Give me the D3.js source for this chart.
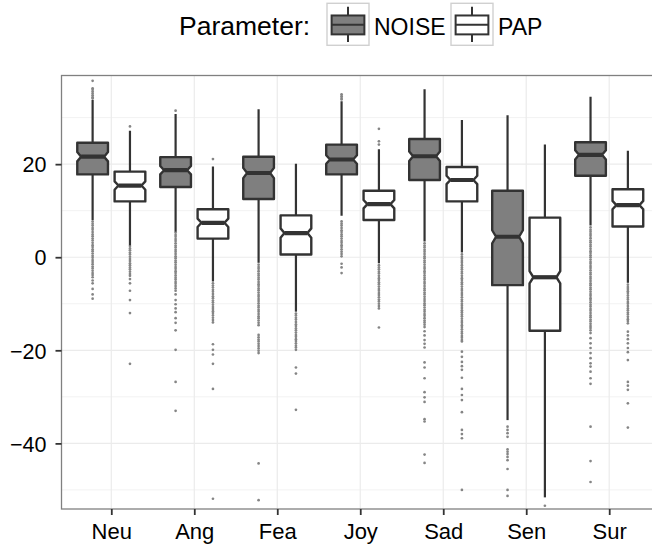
<!DOCTYPE html>
<html>
<head>
<meta charset="utf-8">
<script src="https://cdn.jsdelivr.net/npm/d3@7"></script>
<style>
  body { margin: 0; background: #fff; }
  svg { display: block; font-family: "Liberation Sans", Arial, Helvetica, sans-serif; }
</style>
</head>
<body>
<div id="chart"></div>
<script>
const categories = ["Neu", "Ang", "Fea", "Joy", "Sad", "Sen", "Sur"];
const params = ["NOISE", "PAP"];
const yTicks = [-40, -20, 0, 20];
const yMinor = [-50, -30, -10, 10, 30];

// NOISE boxes
const noiseLow = [8.0, 5.5, -1.2, 8.9, 3.4, -35.0, 6.8];
const noiseQ1 = [17.8, 15.1, 12.5, 17.8, 16.6, -6.0, 17.5];
const noiseMedian = [21.6, 18.7, 18.1, 21.0, 21.7, 4.4, 22.0];
const noiseQ3 = [24.6, 21.5, 21.6, 24.2, 25.4, 14.3, 24.7];
const noiseHigh = [33.8, 30.8, 31.8, 33.5, 36.1, 30.5, 34.5];
const noiseNotch = [1.0, 0.9, 1.1, 0.9, 1.0, 1.4, 1.0];

// PAP boxes
const papLow = [2.6, -5.2, -11.7, -1.3, 1.0, -51.6, -5.5];
const papQ1 = [12.0, 4.0, 0.6, 8.0, 12.0, -15.8, 6.6];
const papMedian = [15.4, 7.4, 5.2, 11.4, 16.6, -4.3, 11.2];
const papQ3 = [18.4, 10.3, 9.0, 14.3, 19.4, 8.5, 14.6];
const papHigh = [27.2, 19.5, 20.1, 23.2, 29.5, 24.2, 22.9];
const papNotch = [0.9, 0.9, 1.0, 0.9, 0.9, 1.3, 0.9];

const noiseOutliers = [
  [37.9, 36.3, 36.0, 35.6, 35.2, 34.8, 34.4, 34.1,
   7.7, 7.2, 6.8, 6.3, 5.9, 5.4, 4.9, 4.5, 4.0, 3.6, 3.1, 2.6, 2.2, 1.7, 1.3, 0.8, 0.3, -0.1,
   -0.6, -1.0, -1.5, -2.0, -2.4, -2.9, -3.4, -3.8, -4.3, -5.0, -5.6, -6.8, -8.0, -8.9],
  [31.5,
   5.3, 4.8, 4.4, 3.9, 3.5, 3.0, 2.5, 2.1, 1.6, 1.2, 0.7, 0.2, -0.2, -0.7, -1.1, -1.6, -2.1,
   -2.5, -3.0, -3.4, -3.9, -4.4, -4.8, -5.3, -5.7, -6.2, -6.7, -7.2, -8.0, -9.2, -10.1, -11.0,
   -11.8, -13.1, -14.1, -15.7, -19.9, -26.8, -33.0],
  [-1.6, -2.1, -2.5, -3.0, -3.5, -3.9, -4.4, -4.8, -5.3, -5.8, -6.2, -6.7, -7.1, -7.6, -8.1,
   -8.5, -9.0, -9.4, -9.9, -10.4, -10.8, -11.3, -11.7, -12.2, -12.7, -13.1, -13.6, -14.1, -14.6,
   -16.7, -17.2, -17.7, -18.1, -18.6, -19.1, -19.6, -20.1, -20.6, -44.3, -52.2],
  [35.0, 34.6, 34.2, 33.9,
   7.7, 7.2, 6.8, 6.3, 5.8, 5.4, 4.9, 4.5, 4.0, 3.5, 3.1, 2.6, 2.2, 1.7, 1.2, 0.7, 0.2,
   -1.4, -2.2, -3.4],
  [3.0, 2.5, 2.1, 1.6, 1.2, 0.7, 0.2, -0.2, -0.7, -1.1, -1.6, -2.1, -2.5, -3.0, -3.4, -3.9,
   -4.4, -4.8, -5.3, -5.7, -6.2, -6.7, -7.1, -7.6, -8.0, -8.5, -9.0, -9.4, -9.9, -10.3, -10.8,
   -11.3, -11.7, -12.2, -12.6, -13.1, -13.6, -14.0, -14.5, -15.0, -15.9, -16.8, -17.8, -18.6,
   -19.4, -22.6, -23.7, -26.0, -29.0, -30.1, -31.1, -34.8, -35.3, -42.4, -44.2],
  [-36.4, -37.1, -37.8, -38.6, -41.3, -41.8, -42.3, -42.9, -43.6, -45.5, -50.0, -51.3],
  [6.4, 5.9, 5.5, 5.0, 4.6, 4.1, 3.6, 3.2, 2.7, 2.3, 1.8, 1.3, 0.9, 0.4, 0.0, -0.5, -1.0,
   -1.4, -1.9, -2.3, -2.8, -3.3, -3.7, -4.2, -4.6, -5.1, -5.6, -6.0, -6.5, -6.9, -7.4, -7.9,
   -8.3, -8.8, -9.2, -9.7, -10.2, -10.6, -11.1, -11.5, -12.0, -12.5, -12.9, -13.4, -13.8,
   -14.3, -14.8, -15.2, -15.7, -16.3, -17.4, -18.5, -19.5, -20.6, -21.7, -22.8, -23.5, -24.6,
   -26.0, -27.2, -36.4, -43.8, -48.3]
];

const papOutliers = [
  [28.1,
   2.4, 1.9, 1.5, 1.0, 0.6, 0.1, -0.4, -0.8, -1.3, -1.7, -2.2, -2.6, -3.1, -3.6, -4.0,
   -4.7, -5.6, -7.2, -9.2, -12.0, -22.9],
  [21.1,
   -5.6, -6.1, -6.5, -7.0, -7.4, -7.9, -8.4, -8.8, -9.3, -9.7, -10.2, -10.7, -11.1, -11.6,
   -12.0, -12.5, -13.0, -13.5, -14.0, -18.7, -19.9, -20.9, -22.9, -28.3, -51.9],
  [-12.1, -12.5, -13.0, -13.4, -13.9, -14.4, -14.8, -15.3, -15.7, -16.2, -16.7, -17.1, -17.6,
   -18.0, -18.5, -19.0, -19.4, -19.9, -23.7, -25.0, -32.8],
  [27.6, 24.9, 24.2,
   -1.7, -2.2, -2.6, -3.1, -3.5, -4.0, -4.5, -4.9, -5.4, -5.8, -6.3, -6.8, -7.2, -7.7, -8.1,
   -8.6, -9.1, -9.5, -10.0, -10.5, -11.0, -15.1],
  [0.6, 0.1, -0.3, -0.8, -1.2, -1.7, -2.2, -2.6, -3.1, -3.5, -4.0, -4.5, -4.9, -5.4, -5.8,
   -6.3, -6.8, -7.2, -7.7, -8.1, -8.6, -9.1, -9.5, -10.0, -10.4, -10.9, -11.4, -11.8, -12.3,
   -12.7, -13.2, -13.7, -14.1, -14.6, -15.0, -15.5, -16.0, -16.4, -16.9, -17.3, -17.8, -18.1,
   -20.3, -21.4, -22.5, -23.4, -24.2, -25.9, -28.3, -29.6, -30.7, -33.3, -37.1, -38.0, -38.9,
   -50.0],
  [-53.4],
  [-5.9, -6.4, -6.8, -7.3, -7.7, -8.2, -8.7, -9.1, -9.6, -10.0, -10.5, -11.0, -11.4, -11.9,
   -12.3, -12.8, -13.3, -13.7, -14.2, -16.0, -16.8, -17.6, -18.5, -19.5, -20.4, -22.1, -26.8,
   -27.6, -28.5, -31.4, -36.6]
];

const fills = { NOISE: "#7f7f7f", PAP: "#ffffff" };

const width = 652, height = 544;
const panel = { left: 61.5, top: 75.5, right: 659, bottom: 509 };

const svg = d3.select("#chart").append("svg")
  .attr("width", width).attr("height", height);

const x = d3.scalePoint().domain(categories)
  .range([panel.left, panel.right]).padding(0.6);
const y = d3.scaleLinear().domain([-54.1, 39.05])
  .range([panel.bottom, panel.top]);
const step = x.step();
const dodge = d3.scaleOrdinal().domain(params).range([-0.225 * step, 0.225 * step]);
const boxW = 0.37 * step;
const notchWidth = 0.75;

// build box table
const boxes = [];
categories.forEach((c, i) => {
  boxes.push({ cat: c, param: "NOISE", low: noiseLow[i], q1: noiseQ1[i], med: noiseMedian[i],
    q3: noiseQ3[i], high: noiseHigh[i], notch: noiseNotch[i], out: noiseOutliers[i] });
  boxes.push({ cat: c, param: "PAP", low: papLow[i], q1: papQ1[i], med: papMedian[i],
    q3: papQ3[i], high: papHigh[i], notch: papNotch[i], out: papOutliers[i] });
});

svg.append("clipPath").attr("id", "clip").append("rect")
  .attr("x", panel.left).attr("y", panel.top)
  .attr("width", panel.right - panel.left).attr("height", panel.bottom - panel.top);

const plot = svg.append("g").attr("clip-path", "url(#clip)");

// grid
plot.append("g").selectAll("line").data(yMinor).enter().append("line")
  .attr("x1", panel.left).attr("x2", panel.right)
  .attr("y1", d => y(d)).attr("y2", d => y(d))
  .attr("stroke", "#f2f2f2").attr("stroke-width", 1);
plot.append("g").selectAll("line").data(yTicks).enter().append("line")
  .attr("x1", panel.left).attr("x2", panel.right)
  .attr("y1", d => y(d)).attr("y2", d => y(d))
  .attr("stroke", "#ebebeb").attr("stroke-width", 1.2);
plot.append("g").selectAll("line").data(categories).enter().append("line")
  .attr("y1", panel.top).attr("y2", panel.bottom)
  .attr("x1", d => x(d)).attr("x2", d => x(d))
  .attr("stroke", "#ebebeb").attr("stroke-width", 1.2);

const cx = d => x(d.cat) + dodge(d.param);

// outliers
const og = plot.append("g");
boxes.forEach(b => {
  og.selectAll(null).data(b.out).enter().append("circle")
    .attr("cx", cx(b)).attr("cy", v => y(v)).attr("r", 1.35)
    .attr("fill", "#858585");
});

// whiskers
const wg = plot.append("g").attr("stroke", "#333").attr("stroke-width", 2.2);
wg.selectAll(null).data(boxes).enter().append("line")
  .attr("x1", cx).attr("x2", cx)
  .attr("y1", d => y(d.q3)).attr("y2", d => y(d.high));
wg.selectAll(null).data(boxes).enter().append("line")
  .attr("x1", cx).attr("x2", cx)
  .attr("y1", d => y(d.q1)).attr("y2", d => y(d.low));

// notched boxes
function boxPath(d) {
  const c = cx(d), x0 = c - boxW / 2, x1 = c + boxW / 2;
  const inset = (1 - notchWidth) / 2 * boxW;
  const p = d3.path();
  p.moveTo(x0, y(d.q3));
  p.lineTo(x1, y(d.q3));
  p.lineTo(x1, y(d.med + d.notch));
  p.lineTo(x1 - inset, y(d.med));
  p.lineTo(x1, y(d.med - d.notch));
  p.lineTo(x1, y(d.q1));
  p.lineTo(x0, y(d.q1));
  p.lineTo(x0, y(d.med - d.notch));
  p.lineTo(x0 + inset, y(d.med));
  p.lineTo(x0, y(d.med + d.notch));
  p.closePath();
  return p.toString();
}
plot.append("g").selectAll("path").data(boxes).enter().append("path")
  .attr("d", boxPath)
  .attr("fill", d => fills[d.param])
  .attr("stroke", "#333").attr("stroke-width", 2.4)
  .attr("stroke-linejoin", "round");
plot.append("g").selectAll("line").data(boxes).enter().append("line")
  .attr("x1", d => cx(d) - boxW / 2 + (1 - notchWidth) / 2 * boxW)
  .attr("x2", d => cx(d) + boxW / 2 - (1 - notchWidth) / 2 * boxW)
  .attr("y1", d => y(d.med)).attr("y2", d => y(d.med))
  .attr("stroke", "#333").attr("stroke-width", 4.2);

// panel border
svg.append("rect")
  .attr("x", panel.left).attr("y", panel.top)
  .attr("width", panel.right - panel.left).attr("height", panel.bottom - panel.top)
  .attr("fill", "none").attr("stroke", "#808080").attr("stroke-width", 1.3);

// axes
const yAxis = svg.append("g")
  .attr("transform", `translate(${panel.left},0)`)
  .call(d3.axisLeft(y).tickValues(yTicks).tickSize(6).tickPadding(9)
    .tickFormat(d => d < 0 ? "\u2212" + Math.abs(d) : d));
const xAxis = svg.append("g")
  .attr("transform", `translate(0,${panel.bottom})`)
  .call(d3.axisBottom(x).tickSize(6).tickPadding(8));
[yAxis, xAxis].forEach(a => {
  a.select(".domain").remove();
  a.selectAll(".tick line").attr("stroke", "#333").attr("stroke-width", 1.8);
  a.selectAll(".tick text").attr("fill", "#000")
    .style("font-family", "'Liberation Sans', Arial, sans-serif");
});
yAxis.selectAll(".tick text").style("font-size", "21.5px").attr("dy", "0.36em");
xAxis.selectAll(".tick text").style("font-size", "22px");

// legend
const lg = svg.append("g");
lg.append("text").attr("x", 179).attr("y", 35)
  .style("font-size", "26.5px").attr("fill", "#000").text("Parameter:");
const keyX = { NOISE: 327, PAP: 451 };
const keySize = 42;
params.forEach(p => {
  const g = lg.append("g").attr("transform", `translate(${keyX[p]},3.3)`);
  g.append("rect").attr("x", 0).attr("y", 0).attr("width", keySize).attr("height", keySize)
    .attr("fill", "#fff").attr("stroke", "#d0d0d0").attr("stroke-width", 1.4);
  const kc = keySize / 2;
  g.append("line").attr("x1", kc).attr("x2", kc).attr("y1", keySize * 0.08).attr("y2", keySize * 0.92)
    .attr("stroke", "#333").attr("stroke-width", 2);
  g.append("rect").attr("x", keySize * 0.11).attr("y", keySize * 0.29)
    .attr("width", keySize * 0.78).attr("height", keySize * 0.45)
    .attr("fill", fills[p]).attr("stroke", "#333").attr("stroke-width", 2);
  g.append("line").attr("x1", keySize * 0.11).attr("x2", keySize * 0.89)
    .attr("y1", keySize * 0.51).attr("y2", keySize * 0.51)
    .attr("stroke", "#333").attr("stroke-width", 2);
  g.append("text").attr("x", keySize + 5).attr("y", 31.7)
    .style("font-size", "23px").attr("fill", "#000").text(p);
});
</script>
</body>
</html>
